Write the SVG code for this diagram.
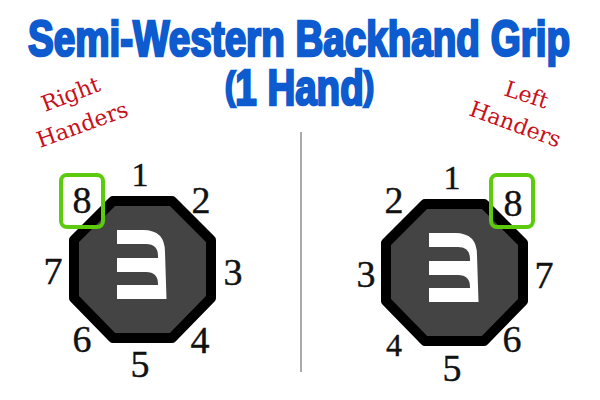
<svg xmlns="http://www.w3.org/2000/svg" width="600" height="400" viewBox="0 0 600 400">
<style>
.title{font-family:"Liberation Sans",Arial,sans-serif;font-weight:700;font-size:38.500px;fill:#0d5bcf;stroke:#0d5bcf;stroke-width:2px}
.paren{font-size:31px}
.hand{font-family:"DejaVu Serif",serif;font-size:22px;fill:#c8101a}
.num{font-family:"Liberation Serif",serif;font-size:38px;fill:#111;stroke:#111;stroke-width:.4px;text-anchor:middle}
.oct{fill:#444;stroke:#000;stroke-width:10;stroke-linejoin:round}
.mark{fill:#fff}
.box{fill:none;stroke:#5ccb0e;stroke-width:4}
</style>
<defs>
<g id="octagon">
<polygon class="oct" points="113,201 172,201 211,240 211,298 172,338 113,338 74,298 74,240"/>
<path class="mark" d="M117,230H143Q165,230 165,252L166.500,299H117V285H158V284Q158,272 146,272H117V258H158V256Q158,244 146,244H117Z"/>
</g>
</defs>
<g id="title">
<text class="title" transform="translate(28,55.500) scale(1,1.28)" textLength="542" lengthAdjust="spacingAndGlyphs">Semi-Western Backhand Grip</text>
<text class="title" transform="translate(225,105) scale(1,1.28)"><tspan class="paren" dy="-5">(</tspan><tspan dy="5">1 Hand</tspan><tspan class="paren" dy="-5">)</tspan></text>
</g>
<g id="right-label">
<text class="hand" transform="translate(45,112) rotate(-21)">Right</text>
<text class="hand" transform="translate(40,148) rotate(-20)">Handers</text>
</g>
<g id="left-label">
<text class="hand" transform="translate(503,95) rotate(18)">Left</text>
<text class="hand" transform="translate(468,115) rotate(20)">Handers</text>
</g>
<line id="divider" x1="301" y1="132" x2="301" y2="372" stroke="#aaa" stroke-width="2"/>
<g id="right-grip">
<use href="#octagon"/>
<rect class="box" x="61" y="175" width="42" height="52" rx="6"/>
<text class="num" x="140" y="186" style="font-size:34px">1</text>
<text class="num" x="201" y="213">2</text>
<text class="num" x="233" y="285">3</text>
<text class="num" x="200" y="353">4</text>
<text class="num" x="140" y="377">5</text>
<text class="num" x="82" y="352">6</text>
<text class="num" x="53" y="284">7</text>
<text class="num" x="82" y="213">8</text>
</g>
<g id="left-grip">
<use href="#octagon" transform="translate(312,3)"/>
<rect class="box" x="491" y="175" width="42" height="52" rx="6"/>
<text class="num" x="452" y="189" style="font-size:34px">1</text>
<text class="num" x="394" y="213">2</text>
<text class="num" x="366" y="287">3</text>
<text class="num" x="394" y="356" style="font-size:32px">4</text>
<text class="num" x="452" y="381">5</text>
<text class="num" x="512" y="352">6</text>
<text class="num" x="544" y="288">7</text>
<text class="num" x="513" y="216">8</text>
</g>
</svg>
